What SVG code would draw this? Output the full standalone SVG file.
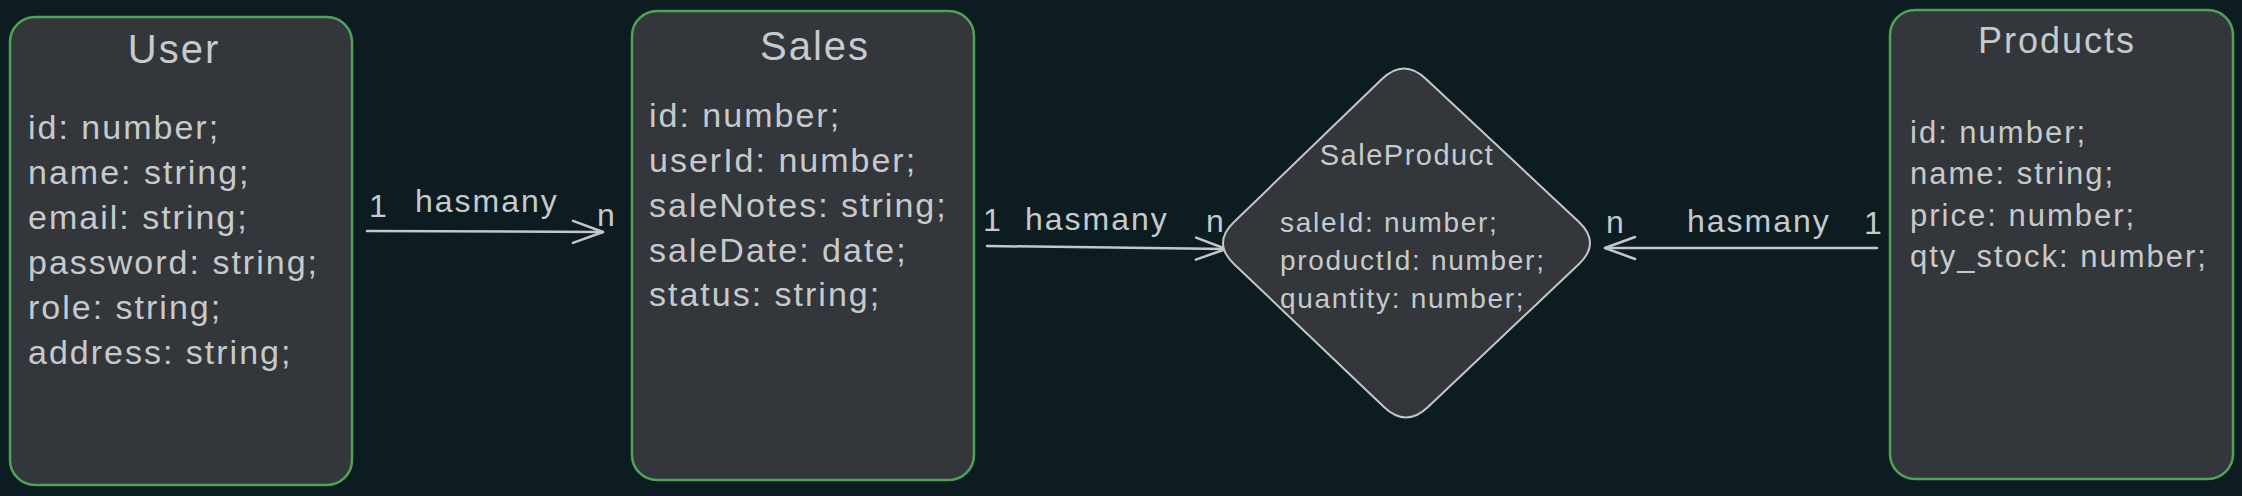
<svg xmlns="http://www.w3.org/2000/svg" width="2242" height="496" viewBox="0 0 2242 496">
<defs>
<style>
.bg{fill:#0c1c20}
.box{fill:#33363a;stroke:#4fa357;stroke-width:2.5}
.dia{fill:#33363a;stroke:#c4c7c9;stroke-width:2}
text{font-family:"Liberation Sans",Arial,sans-serif;fill:#c6cacc}
.title{font-size:40px;letter-spacing:2px;text-anchor:middle}
.ptitle{font-size:36px;letter-spacing:2px;text-anchor:middle}
.stitle{font-size:29px;letter-spacing:1.5px;text-anchor:middle}
.attr{font-size:34px;letter-spacing:2px}
.pattr{font-size:31px;letter-spacing:2px}
.dattr{font-size:28px;letter-spacing:1.7px}
.lbl{font-size:32px;letter-spacing:2px}
.edge{fill:none;stroke:#c4c7c9;stroke-width:2.5;stroke-linecap:round;stroke-linejoin:round}
</style>
<marker id="arr" markerUnits="userSpaceOnUse" viewBox="-34 -14 38 28" refX="0" refY="0" markerWidth="38" markerHeight="28" orient="auto">
<path d="M-30,-11 L0,0 L-30,11" fill="none" stroke="#c4c7c9" stroke-width="2.5" stroke-linecap="round" stroke-linejoin="round"/>
</marker>
</defs>
<rect class="bg" x="0" y="0" width="2242" height="496"/>
<g id="connectors">
<g id="user-sales">
<line class="edge" x1="367" y1="231" x2="603" y2="232" marker-end="url(#arr)"/>
<text class="lbl" x="369" y="217">1</text>
<text class="lbl" x="415" y="212">hasmany</text>
<text class="lbl" x="597" y="226">n</text>
</g>
<g id="sales-saleproduct">
<line class="edge" x1="987" y1="246" x2="1226" y2="249" marker-end="url(#arr)"/>
<text class="lbl" x="983" y="231">1</text>
<text class="lbl" x="1025" y="230">hasmany</text>
<text class="lbl" x="1206" y="232">n</text>
</g>
<g id="products-saleproduct">
<line class="edge" x1="1877" y1="248" x2="1605" y2="248" marker-end="url(#arr)"/>
<text class="lbl" x="1606" y="233">n</text>
<text class="lbl" x="1687" y="232">hasmany</text>
<text class="lbl" x="1864" y="234">1</text>
</g>
</g>
<g id="user">
<rect class="box" x="10" y="17" width="342" height="468" rx="25"/>
<text class="title" x="174" y="63">User</text>
<text class="attr" x="28" y="139">id: number;</text>
<text class="attr" x="28" y="184">name: string;</text>
<text class="attr" x="28" y="229">email: string;</text>
<text class="attr" x="28" y="274">password: string;</text>
<text class="attr" x="28" y="319">role: string;</text>
<text class="attr" x="28" y="364">address: string;</text>
</g>
<g id="sales">
<rect class="box" x="632" y="11" width="342" height="469" rx="25"/>
<text class="title" x="815" y="60">Sales</text>
<text class="attr" x="649" y="127">id: number;</text>
<text class="attr" x="649" y="172">userId: number;</text>
<text class="attr" x="649" y="217">saleNotes: string;</text>
<text class="attr" x="649" y="262">saleDate: date;</text>
<text class="attr" x="649" y="306">status: string;</text>
</g>
<g id="saleproduct">
<path class="dia" d="M1382,79 Q1404,58 1426,79 L1579,222 Q1601,243 1579,264 L1428,407 Q1406,428 1384,407 L1234,264 Q1212,243 1234,222 Z"/>
<text class="stitle" x="1407" y="165">SaleProduct</text>
<text class="dattr" x="1280" y="232">saleId: number;</text>
<text class="dattr" x="1280" y="270">productId: number;</text>
<text class="dattr" x="1280" y="308">quantity: number;</text>
</g>
<g id="products">
<rect class="box" x="1890" y="10" width="343" height="469" rx="25"/>
<text class="ptitle" x="2057" y="53">Products</text>
<text class="pattr" x="1910" y="143">id: number;</text>
<text class="pattr" x="1910" y="184">name: string;</text>
<text class="pattr" x="1910" y="226">price: number;</text>
<text class="pattr" x="1910" y="267">qty_stock: number;</text>
</g>
</svg>
